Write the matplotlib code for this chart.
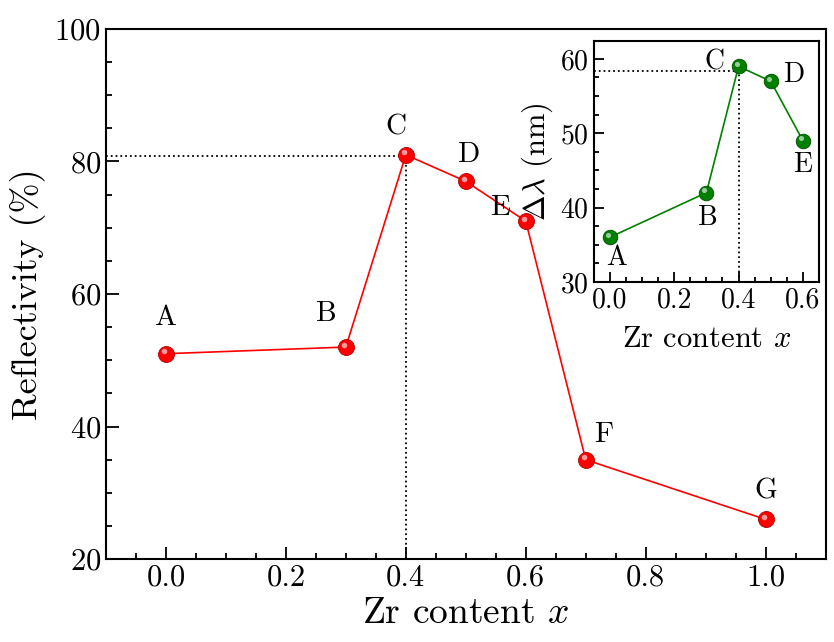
import matplotlib
matplotlib.use("Agg")
import matplotlib.pyplot as plt
from matplotlib.ticker import MultipleLocator

plt.rcParams['font.family'] = 'serif'
plt.rcParams['font.serif'] = ['cmr10']
plt.rcParams['mathtext.fontset'] = 'cm'
plt.rcParams['axes.formatter.use_mathtext'] = True

# main panel: reflectivity vs Zr content
zr = [0.0, 0.3, 0.4, 0.5, 0.6, 0.7, 1.0]
refl = [51, 52, 81, 77, 71, 35, 26]
names = ['A', 'B', 'C', 'D', 'E', 'F', 'G']
name_x = [0.0, 0.268, 0.383, 0.506, 0.557, 0.73, 1.0]
name_y = [56.4, 57.0, 85.2, 81.0, 73.0, 38.7, 30.2]
refl_peak = 80.8

# inset: bandwidth vs Zr content
zr_in = [0.0, 0.3, 0.4, 0.5, 0.6]
dlam = [36, 42, 59, 57, 49]
names_in = ['A', 'B', 'C', 'D', 'E']
name_in_x = [0.02, 0.305, 0.326, 0.57, 0.60]
name_in_y = [33.2, 38.6, 59.6, 57.8, 45.7]
dlam_peak = 58.4


def ball_plot(ax, x, y, c, dark, ms):
    ax.plot(x, y, '-', color=c, lw=1.2, zorder=3)
    ax.plot(x, y, 'o', ls='none', ms=ms, mfc=c, mec=dark, mew=0.6, zorder=4)
    # little highlight to fake the shaded sphere look
    ax.plot(x, y, 'o', ls='none', ms=ms * 0.35, mfc='white', mec='none',
            alpha=0.6, zorder=5,
            transform=ax.transData + matplotlib.transforms.ScaledTranslation(
                -0.02, 0.025, ax.figure.dpi_scale_trans))


def style_axes(ax, tick_size):
    for s in ax.spines.values():
        s.set_linewidth(1.5)
    ax.tick_params(which='both', direction='in', top=False, right=False,
                   width=1.3, labelsize=tick_size)
    ax.tick_params(which='major', length=9)
    ax.tick_params(which='minor', length=4.5)


fig = plt.figure(figsize=(8.34, 6.42), dpi=100)
ax = fig.add_axes([0.127, 0.129, 0.863, 0.826])
ax.set_xlim(-0.1, 1.1)
ax.set_ylim(20, 100)
ax.xaxis.set_major_locator(MultipleLocator(0.2))
ax.xaxis.set_minor_locator(MultipleLocator(0.05))
ax.yaxis.set_major_locator(MultipleLocator(20))
ax.yaxis.set_minor_locator(MultipleLocator(5))
ax.xaxis.set_major_formatter(matplotlib.ticker.FormatStrFormatter('%.1f'))
style_axes(ax, 22)

ax.plot([-0.1, 0.4], [refl_peak, refl_peak], ':', color='k', lw=1.3, zorder=2)
ax.plot([0.4, 0.4], [20, refl_peak], ':', color='k', lw=1.3, zorder=2)
ball_plot(ax, zr, refl, 'red', '#b00000', 11.5)
for n, tx, ty in zip(names, name_x, name_y):
    ax.text(tx, ty, n, fontsize=21, ha='center', va='center')

ax.set_xlabel('Zr content $x$', fontsize=27, labelpad=4)
ax.set_ylabel('Reflectivity (%)', fontsize=26, labelpad=6)

ins = fig.add_axes([0.712, 0.561, 0.270, 0.375])
ins.set_xlim(-0.05, 0.65)
ins.set_ylim(30, 62.4)
ins.xaxis.set_major_locator(MultipleLocator(0.2))
ins.xaxis.set_minor_locator(MultipleLocator(0.05))
ins.yaxis.set_major_locator(MultipleLocator(10))
ins.yaxis.set_minor_locator(MultipleLocator(2.5))
ins.xaxis.set_major_formatter(matplotlib.ticker.FormatStrFormatter('%.1f'))
style_axes(ins, 20)
ins.tick_params(which='major', length=7)
ins.tick_params(which='minor', length=3.5)

ins.plot([-0.05, 0.4], [dlam_peak, dlam_peak], ':', color='k', lw=1.3, zorder=2)
ins.plot([0.4, 0.4], [30, dlam_peak], ':', color='k', lw=1.3, zorder=2)
ball_plot(ins, zr_in, dlam, 'green', '#004d00', 10.5)
for n, tx, ty in zip(names_in, name_in_x, name_in_y):
    ins.text(tx, ty, n, fontsize=20, ha='center', va='center')

ins.set_xlabel('Zr content $x$', fontsize=22, labelpad=9)
ins.set_ylabel(r'$\Delta\lambda$ (nm)', fontsize=22, labelpad=4)

fig.savefig('out.png', dpi=100)
